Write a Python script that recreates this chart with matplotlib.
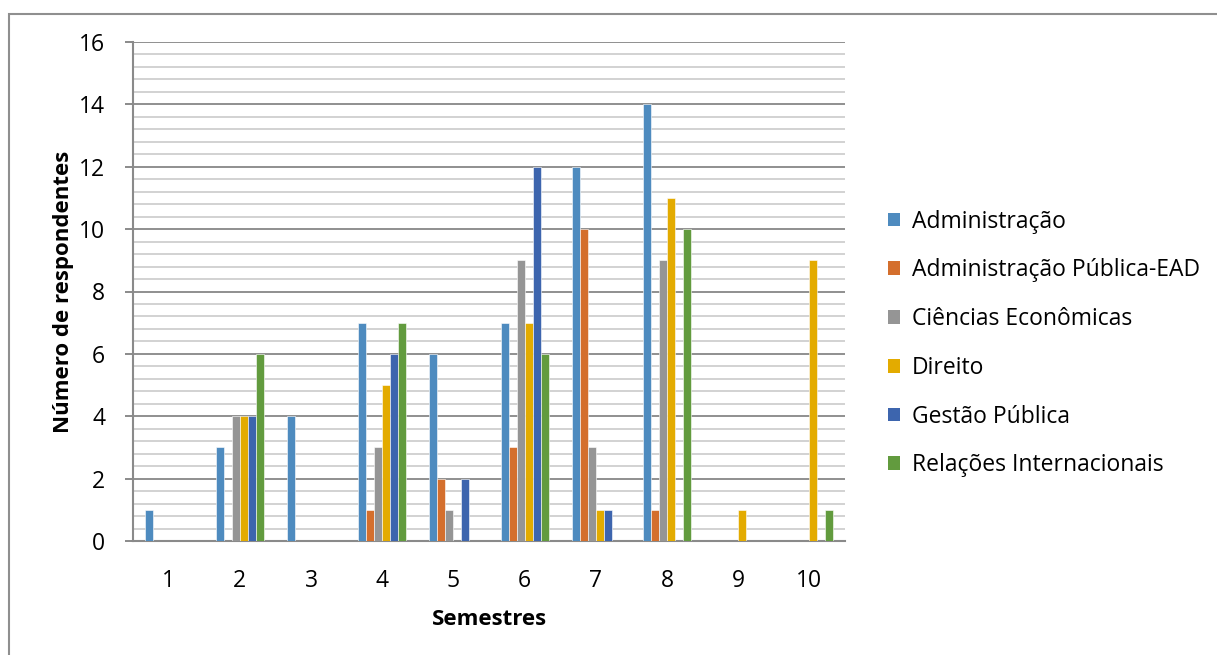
import matplotlib
matplotlib.use("Agg")
import matplotlib.pyplot as plt
from matplotlib.patches import Rectangle, Patch
from matplotlib.ticker import MultipleLocator
import numpy as np

plt.rcParams['font.family'] = ['Open Sans', 'DejaVu Sans']

semestres = ["1", "2", "3", "4", "5", "6", "7", "8", "9", "10"]
cursos = ["Administração", "Administração Pública-EAD", "Ciências Econômicas",
          "Direito", "Gestão Pública", "Relações Internacionais"]
administracao = [1, 3, 4, 7, 6, 7, 12, 14, 0, 0]
adm_publica_ead = [0, 0, 0, 1, 2, 3, 10, 1, 0, 0]
ciencias_economicas = [0, 4, 0, 3, 1, 9, 3, 9, 0, 0]
direito = [0, 4, 0, 5, 0, 7, 1, 11, 1, 9]
gestao_publica = [0, 4, 0, 6, 2, 12, 1, 0, 0, 0]
relacoes_internacionais = [0, 6, 0, 7, 0, 6, 0, 10, 0, 1]
series = [administracao, adm_publica_ead, ciencias_economicas,
          direito, gestao_publica, relacoes_internacionais]
cores = ["#4E8BBF", "#D46F2D", "#959595", "#E3AB00", "#3D65AE", "#629B3E"]

W, H = 1217, 655
fig = plt.figure(figsize=(W / 100, H / 100), dpi=100)
ax = fig.add_axes([133 / W, 1 - 541 / H, (845 - 133) / W, (541 - 42) / H])

x = np.arange(len(semestres))
bw = 0.112
for i, (vals, cor) in enumerate(zip(series, cores)):
    ax.bar(x + (i - 2.5) * bw, vals, width=bw, color=cor,
           edgecolor="white", linewidth=0.4, zorder=3)

ax.set_xlim(-0.5, len(semestres) - 0.5)
ax.set_ylim(0, 16)
ax.yaxis.set_major_locator(MultipleLocator(2))
ax.yaxis.set_minor_locator(MultipleLocator(0.4))
ax.grid(axis="y", which="minor", color="#cfcfcf", linewidth=1.3, zorder=1)
ax.grid(axis="y", which="major", color="#8f8f8f", linewidth=1.4, zorder=2)
ax.set_xticks(x)
ax.set_xticklabels(semestres)

for s in ["top", "right"]:
    ax.spines[s].set_visible(False)
ax.spines["left"].set_color("#8a8a8a")
ax.spines["left"].set_linewidth(1.5)
ax.spines["bottom"].set_color("#8a8a8a")
ax.spines["bottom"].set_linewidth(1.5)
ax.tick_params(axis="y", which="major", length=6, width=1.4, color="#8a8a8a",
               labelsize=16.5, pad=14)
ax.tick_params(axis="y", which="minor", length=0)
ax.tick_params(axis="x", length=0, labelsize=16.5, pad=20)

ax.set_xlabel("Semestres", fontsize=16, fontweight="bold", labelpad=12)
ax.set_ylabel("Número de respondentes", fontsize=16, fontweight="bold", labelpad=4)

handles = [Patch(facecolor=c, edgecolor="none") for c in cores]
fig.legend(handles, cursos, loc="upper left",
           bbox_to_anchor=(867 / W, 1 - 189 / H), frameon=False,
           fontsize=16.5, handlelength=0.55, handleheight=0.55,
           handletextpad=0.5, labelspacing=1.08)

fig.patches.append(Rectangle((9 / W, -0.2), 1.2, 1.2 - 14 / H,
                             transform=fig.transFigure, fill=False,
                             edgecolor="#8f8f8f", linewidth=1.5))

fig.savefig("out.png", dpi=100, facecolor="white")
